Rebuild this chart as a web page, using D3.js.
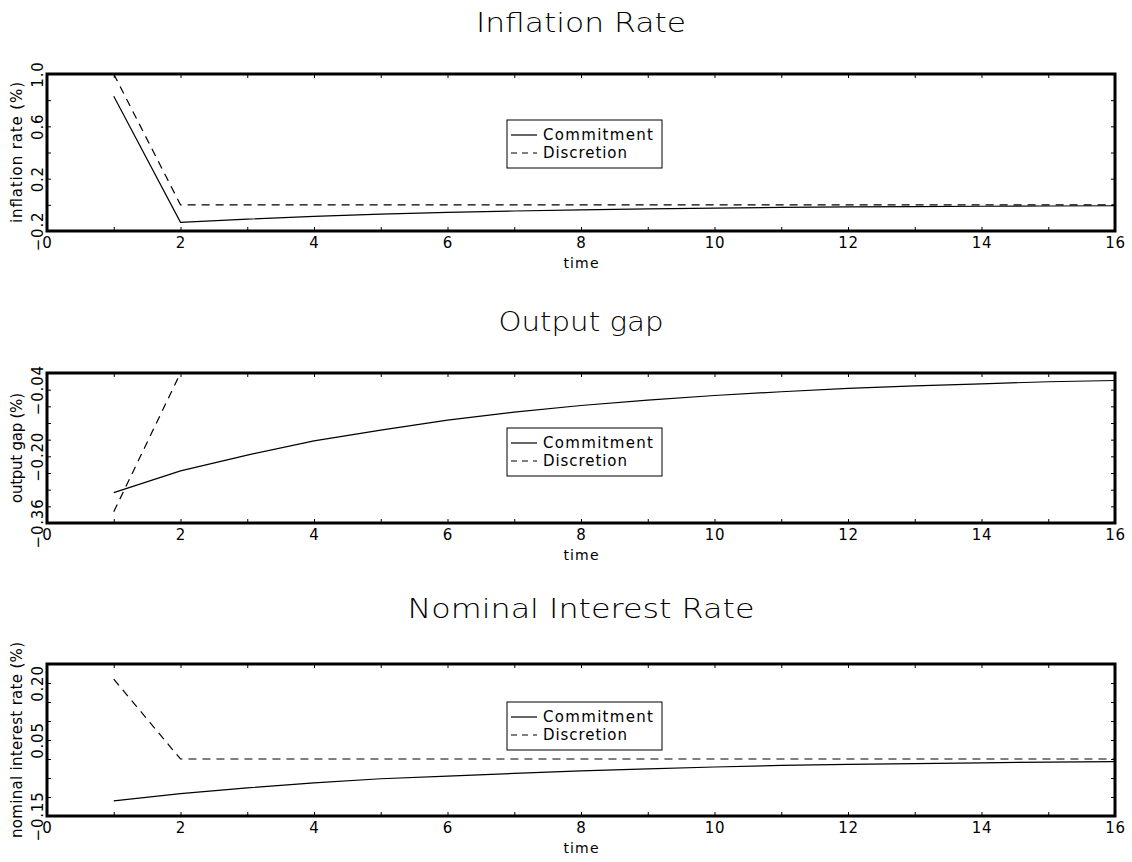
<!DOCTYPE html>
<html>
<head>
<meta charset="utf-8">
<script src="https://cdn.jsdelivr.net/npm/d3@7"></script>
<style>
  html, body { margin: 0; padding: 0; background: #fff; }
  svg { display: block; }
  text { font-family: "DejaVu Sans", "Liberation Sans", sans-serif; fill: #000; }
</style>
</head>
<body>
<svg id="chart" width="1132" height="862"></svg>
<script>
// Time periods after the shock
const periods = [1, 2, 3, 4, 5, 6, 7, 8, 9, 10, 11, 12, 13, 14, 15, 16];

// Inflation rate (%)
const inflationCommitment = [0.83, -0.134, -0.109, -0.088, -0.071, -0.058, -0.047, -0.038, -0.031, -0.025, -0.020, -0.016, -0.013, -0.011, -0.009, -0.007];
const inflationDiscretion = [1.0, 0, 0, 0, 0, 0, 0, 0, 0, 0, 0, 0, 0, 0, 0, 0];

// Output gap (%)
const gapCommitment = [-0.287, -0.235, -0.197, -0.163, -0.137, -0.113, -0.094, -0.078, -0.065, -0.054, -0.045, -0.037, -0.031, -0.026, -0.021, -0.018];
const gapDiscretion = [-0.333, 0, 0, 0, 0, 0, 0, 0, 0, 0, 0, 0, 0, 0, 0, 0];

// Nominal interest rate (%)
const rateCommitment = [-0.110, -0.091, -0.076, -0.063, -0.052, -0.045, -0.038, -0.031, -0.026, -0.021, -0.017, -0.014, -0.012, -0.010, -0.008, -0.007];
const rateDiscretion = [0.21, 0, 0, 0, 0, 0, 0, 0, 0, 0, 0, 0, 0, 0, 0, 0];

// Axis ticks and labels
const xTicks = [0, 1, 2, 3, 4, 5, 6, 7, 8, 9, 10, 11, 12, 13, 14, 15, 16];
const xLabels = [0, 2, 4, 6, 8, 10, 12, 14, 16];
const inflationTicks = [-0.2, 0, 0.2, 0.4, 0.6, 0.8, 1.0];
const inflationLabels = [-0.2, 0.2, 0.6, 1.0];
const gapTicks = [-0.36, -0.32, -0.28, -0.24, -0.20, -0.16, -0.12, -0.08, -0.04, 0];
const gapLabels = [-0.36, -0.20, -0.04];
const rateTicks = [-0.15, -0.10, -0.05, 0, 0.05, 0.10, 0.15, 0.20, 0.25];
const rateLabels = [-0.15, 0.05, 0.20];

const seriesNames = ["Commitment", "Discretion"];
const legendTextLen = [110, 84];

const panels = [
  { title: "Inflation Rate", titleLen: 210, titleY: 32, ylabel: "inflation rate (%)", ylabelLen: 141,
    top: 74, bottom: 231, domain: [-0.2, 1.0], ticks: inflationTicks, labels: inflationLabels, fmt: ".1f",
    commit: inflationCommitment, discr: inflationDiscretion, legendTop: 120 },
  { title: "Output gap", titleLen: 165, titleY: 331, ylabel: "output gap (%)", ylabelLen: 110,
    top: 373, bottom: 523, domain: [-0.36, 0], ticks: gapTicks, labels: gapLabels, fmt: ".2f",
    commit: gapCommitment, discr: gapDiscretion, legendTop: 428 },
  { title: "Nominal Interest Rate", titleLen: 347, titleY: 618, ylabel: "nominal interest rate (%)", ylabelLen: 196,
    top: 664, bottom: 816, domain: [-0.15, 0.25], ticks: rateTicks, labels: rateLabels, fmt: ".2f",
    commit: rateCommitment, discr: rateDiscretion, legendTop: 702 }
];

const left = 47, right = 1115;
const svg = d3.select("#chart");
const x = d3.scaleLinear().domain([0, 16]).range([left, right]);

panels.forEach(p => {
  const g = svg.append("g");
  const y = d3.scaleLinear().domain(p.domain).range([p.bottom, p.top]);
  const fmt = d3.format(p.fmt);

  // title
  g.append("text")
    .attr("x", (left + right) / 2)
    .attr("y", p.titleY)
    .attr("text-anchor", "middle")
    .attr("font-size", 27)
    .attr("font-weight", 200)
    .attr("textLength", p.titleLen)
    .attr("lengthAdjust", "spacingAndGlyphs")
    .text(p.title);

  // series
  const line = d3.line().x((d, i) => x(periods[i])).y(d => y(d));
  g.append("path").datum(p.commit)
    .attr("d", line).attr("fill", "none").attr("stroke", "#000").attr("stroke-width", 1.2);
  g.append("path").datum(p.discr)
    .attr("d", line).attr("fill", "none").attr("stroke", "#000").attr("stroke-width", 1.2)
    .attr("stroke-dasharray", "8,6");

  // bottom axis with labels
  const xb = g.append("g").attr("transform", `translate(0,${p.bottom})`)
    .call(d3.axisBottom(x).tickValues(xTicks).tickSizeInner(-4).tickSizeOuter(0).tickPadding(6)
      .tickFormat(d => xLabels.includes(d) ? String(d) : ""));
  // top axis, ticks only
  const xt = g.append("g").attr("transform", `translate(0,${p.top})`)
    .call(d3.axisTop(x).tickValues(xTicks).tickSizeInner(-4).tickSizeOuter(0).tickFormat(""));
  // left axis with rotated labels
  const yl = g.append("g").attr("transform", `translate(${left},0)`)
    .call(d3.axisLeft(y).tickValues(p.ticks).tickSizeInner(-4).tickSizeOuter(0)
      .tickFormat(d => p.labels.some(v => Math.abs(v - d) < 1e-9) ? fmt(d) : ""));
  // right axis, ticks only
  const yr = g.append("g").attr("transform", `translate(${right},0)`)
    .call(d3.axisRight(y).tickValues(p.ticks).tickSizeInner(-4).tickSizeOuter(0).tickFormat(""));

  [xb, xt, yl, yr].forEach(a => {
    a.select(".domain").remove();
    a.selectAll(".tick line").attr("stroke", "#000").attr("stroke-width", 1);
    a.selectAll("text").attr("font-size", 15).attr("letter-spacing", 0.8)
      .attr("fill", "#000").attr("font-family", null);
  });
  yl.selectAll("text")
    .attr("x", null).attr("dy", null)
    .attr("text-anchor", "middle")
    .attr("transform", "translate(-4,0) rotate(-90)");

  // frame
  g.append("rect")
    .attr("x", left).attr("y", p.top)
    .attr("width", right - left).attr("height", p.bottom - p.top)
    .attr("fill", "none").attr("stroke", "#000").attr("stroke-width", 3);

  // axis titles
  g.append("text")
    .attr("x", (left + right) / 2).attr("y", p.bottom + 37)
    .attr("text-anchor", "middle").attr("font-size", 14)
    .attr("textLength", 35).attr("lengthAdjust", "spacing")
    .text("time");
  g.append("text")
    .attr("transform", `translate(22,${(p.top + p.bottom) / 2}) rotate(-90)`)
    .attr("text-anchor", "middle").attr("font-size", 15)
    .attr("textLength", p.ylabelLen).attr("lengthAdjust", "spacing")
    .text(p.ylabel);

  // legend
  const lg = g.append("g").attr("transform", `translate(507,${p.legendTop})`);
  lg.append("rect").attr("width", 155).attr("height", 48)
    .attr("fill", "#fff").attr("stroke", "#000").attr("stroke-width", 1);
  seriesNames.forEach((name, i) => {
    const yy = 15 + i * 18;
    lg.append("line").attr("x1", 4).attr("x2", 30).attr("y1", yy).attr("y2", yy)
      .attr("stroke", "#000").attr("stroke-width", 1.2)
      .attr("stroke-dasharray", i === 1 ? "6,5" : null);
    lg.append("text").attr("x", 36).attr("y", yy + 5).attr("font-size", 15)
      .attr("textLength", legendTextLen[i]).attr("lengthAdjust", "spacing")
      .text(name);
  });
});
</script>
</body>
</html>
